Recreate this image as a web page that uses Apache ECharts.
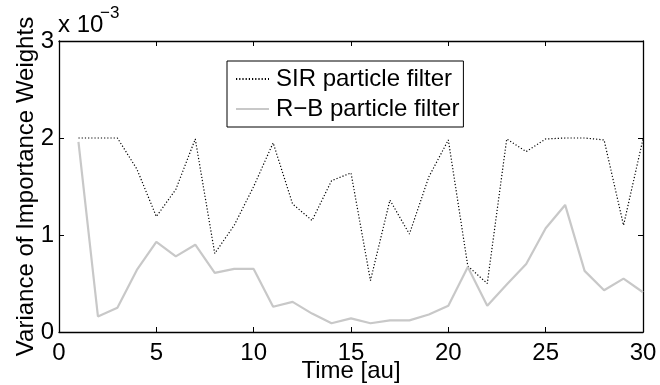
<!DOCTYPE html>
<html>
<head>
<meta charset="utf-8">
<script src="https://cdn.jsdelivr.net/npm/echarts@6/dist/echarts.min.js"></script>
<style>
  html, body { margin: 0; padding: 0; background: #fff; }
  #chart { width: 660px; height: 385px; }
</style>
</head>
<body>
<div id="chart"></div>
<script>
// time steps (x axis)
const timeSteps = [1, 2, 3, 4, 5, 6, 7, 8, 9, 10, 11, 12, 13, 14, 15,
  16, 17, 18, 19, 20, 21, 22, 23, 24, 25, 26, 27, 28, 29, 30]
// variance values, in units of 10^-3
const sirValues = [2.0, 2.0, 2.0, 1.68, 1.19, 1.47, 1.99, 0.81, 1.1, 1.5,
  1.95, 1.32, 1.15, 1.56, 1.64, 0.53, 1.36, 1.01, 1.6, 1.98,
  0.68, 0.5, 1.99, 1.86, 1.99, 2.0, 2.0, 1.98, 1.1, 1.99]
const rbValues = [1.96, 0.16, 0.25, 0.64, 0.93, 0.78, 0.9, 0.61, 0.65, 0.65,
  0.26, 0.31, 0.19, 0.09, 0.14, 0.09, 0.12, 0.12, 0.18, 0.27,
  0.67, 0.27, 0.49, 0.7, 1.07, 1.31, 0.63, 0.43, 0.55, 0.41]
const seriesNames = ['SIR particle filter', 'R\u2212B particle filter']
const xTicks = [0, 5, 10, 15, 20, 25, 30]
const yTicks = [0, 1, 2, 3]

const font = '"Liberation Sans", Arial, Helvetica, sans-serif'
const toPairs = vals => timeSteps.map((t, i) => [t, vals[i]])

// matlab style axis (ticks inside, box on all sides)
const axisCommon = {
  type: 'value',
  axisLine: { show: true, onZero: false, lineStyle: { color: '#000', width: 1.3 } },
  axisTick: { show: true, inside: true, length: 5, lineStyle: { color: '#000', width: 1 } },
  splitLine: { show: false }
}

const chart = echarts.init(document.getElementById('chart'), null, { renderer: 'canvas' })

chart.setOption({
  backgroundColor: '#fff',
  animation: false,
  textStyle: { fontFamily: font },
  grid: { left: 59, right: 17, top: 41, bottom: 53, outerBoundsMode: 'none' },
  graphic: [
    {
      type: 'text', left: 58, top: 13,
      style: { text: 'x 10', font: '24px ' + font, fill: '#000' }
    },
    {
      type: 'text', left: 100, top: 5,
      style: { text: '\u22123', font: '17px ' + font, fill: '#000' }
    }
  ],
  legend: {
    orient: 'vertical',
    left: 227,
    top: 61,
    padding: [6, 4, 6, 8],
    itemGap: 6,
    itemWidth: 33,
    itemHeight: 12,
    itemStyle: { opacity: 0 },
    backgroundColor: '#fff',
    borderColor: '#000',
    borderWidth: 1,
    borderRadius: 0,
    textStyle: { fontSize: 24, color: '#000', fontFamily: font, padding: [0, 0, 0, 2] },
    data: seriesNames
  },
  xAxis: [
    Object.assign({}, axisCommon, {
      min: 0, max: 30, interval: 5,
      name: 'Time [au]',
      nameLocation: 'middle',
      nameGap: 27,
      nameMoveOverlap: false,
      nameTextStyle: { fontSize: 24, color: '#000' },
      axisLabel: { fontSize: 24, color: '#000', margin: 9,
        formatter: v => xTicks.includes(v) ? String(v) : '' }
    }),
    Object.assign({}, axisCommon, {
      position: 'top', min: 0, max: 30, interval: 5,
      axisLabel: { show: false }
    })
  ],
  yAxis: [
    Object.assign({}, axisCommon, {
      min: 0, max: 3, interval: 1,
      name: 'Variance of Importance Weights',
      nameLocation: 'middle',
      nameGap: 21,
      nameMoveOverlap: false,
      nameTextStyle: { fontSize: 24, color: '#000' },
      axisLabel: { fontSize: 24, color: '#000', margin: 5,
        formatter: v => yTicks.includes(v) ? String(v) : '' }
    }),
    Object.assign({}, axisCommon, {
      position: 'right', min: 0, max: 3, interval: 1,
      axisLabel: { show: false }
    })
  ],
  series: [
    {
      name: seriesNames[0],
      type: 'line',
      symbol: 'none',
      data: toPairs(sirValues),
      lineStyle: { color: '#000', width: 1.2, type: [1.2, 2] },
      itemStyle: { color: '#000' }
    },
    {
      name: seriesNames[1],
      type: 'line',
      symbol: 'none',
      data: toPairs(rbValues),
      lineStyle: { color: '#c8c8c8', width: 2.2 },
      itemStyle: { color: '#c8c8c8' }
    }
  ]
})
</script>
</body>
</html>
